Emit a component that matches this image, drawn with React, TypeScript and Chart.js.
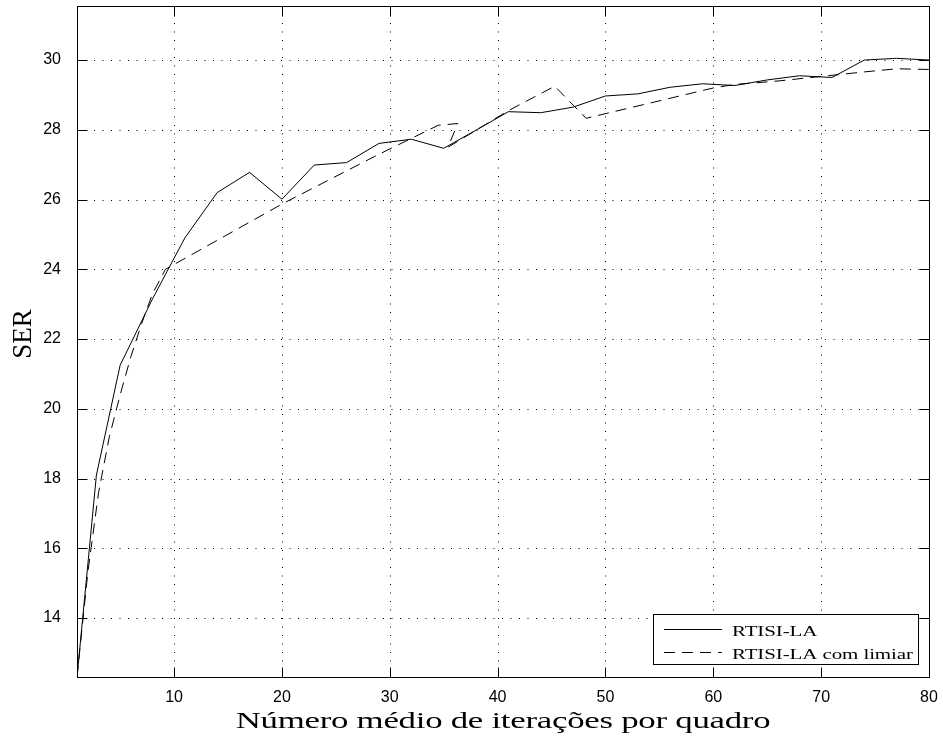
import React, { useEffect, useRef } from 'react';
import { Chart, registerables } from 'chart.js';

Chart.register(...registerables);

// ---- data ----
const rtisiX = [1, 2.8, 5, 8, 11, 14, 17, 20, 23, 26, 29, 32, 35, 38, 41, 44, 47, 50, 53, 56, 59, 62, 65, 68, 71, 74, 77, 80];
const rtisiY = [12.3, 18.1, 21.25, 23.15, 24.9, 26.2, 26.78, 26.01, 26.99, 27.06, 27.61, 27.73, 27.47, 27.99, 28.52, 28.49, 28.65, 28.97, 29.03, 29.22, 29.32, 29.27, 29.43, 29.55, 29.5, 30.0, 30.05, 30.0];

const limiarX = [1, 2, 3, 4, 5, 6, 7, 8, 9.2, 20, 29, 34.5, 36.3, 35.4, 41, 45.3, 48.2, 60, 62, 66, 70, 74, 77, 80];
const limiarY = [12.3, 15.3, 17.6, 19.2, 20.4, 21.5, 22.45, 23.3, 24.0, 25.87, 27.3, 28.13, 28.18, 27.5, 28.55, 29.25, 28.33, 29.2, 29.3, 29.4, 29.53, 29.66, 29.75, 29.73];

const xTicks = [10, 20, 30, 40, 50, 60, 70, 80];
const yTicks = [14, 16, 18, 20, 22, 24, 26, 28, 30];

const seriesNames = ['RTISI-LA', 'RTISI-LA com limiar'];
const xTitle = 'Número médio de iterações por quadro';
const yTitle = 'SER';

const X_MIN = 1;
const X_MAX = 80;
const Y_MIN = 12.31;
const Y_MAX = 31.55;

const DASH = [11, 7];

function drawStretchedText(ctx: any, text: string, x: number, y: number, font: string, target: number, sx: number, align: string) {
  ctx.save();
  ctx.font = font;
  const w = ctx.measureText(text).width;
  const n = Math.max(1, Array.from(text).length - 1);
  let scale = sx;
  if ('letterSpacing' in ctx) {
    const sp = (target / sx - w) / n;
    ctx.letterSpacing = sp.toFixed(2) + 'px';
  } else {
    scale = target / w;
  }
  ctx.translate(x, y);
  ctx.scale(scale, 1);
  ctx.textAlign = align;
  ctx.textBaseline = 'alphabetic';
  ctx.fillStyle = '#000';
  ctx.fillText(text, 0, 0);
  ctx.restore();
}

const framePlugin = {
  id: 'matlabFrame',
  beforeDatasetsDraw(chart: any) {
    const { ctx, chartArea: a, scales } = chart;
    const xs = scales.x;
    const ys = scales.y;
    ctx.save();
    ctx.strokeStyle = '#000';
    ctx.lineWidth = 1;
    ctx.setLineDash([1, 7.5]);
    for (const v of xTicks) {
      if (v >= X_MAX) continue;
      const px = Math.round(xs.getPixelForValue(v)) + 0.5;
      ctx.beginPath();
      ctx.moveTo(px, a.top);
      ctx.lineTo(px, a.bottom);
      ctx.stroke();
    }
    for (const v of yTicks) {
      const py = Math.round(ys.getPixelForValue(v)) + 0.5;
      ctx.beginPath();
      ctx.moveTo(a.left, py);
      ctx.lineTo(a.right, py);
      ctx.stroke();
    }
    ctx.restore();
  },
  afterDatasetsDraw(chart: any) {
    const { ctx, chartArea: a, scales } = chart;
    const xs = scales.x;
    const ys = scales.y;
    const L = Math.round(a.left) + 0.5;
    const R = Math.round(a.right) + 0.5;
    const T = Math.round(a.top) + 0.5;
    const B = Math.round(a.bottom) + 0.5;
    ctx.save();
    ctx.strokeStyle = '#000';
    ctx.lineWidth = 1;
    ctx.setLineDash([]);
    // inward ticks
    const tl = 10;
    ctx.beginPath();
    for (const v of xTicks) {
      const px = Math.round(xs.getPixelForValue(v)) + 0.5;
      ctx.moveTo(px, B); ctx.lineTo(px, B - tl);
      ctx.moveTo(px, T); ctx.lineTo(px, T + tl);
    }
    for (const v of yTicks) {
      const py = Math.round(ys.getPixelForValue(v)) + 0.5;
      ctx.moveTo(L, py); ctx.lineTo(L + tl, py);
      ctx.moveTo(R, py); ctx.lineTo(R - tl, py);
    }
    ctx.stroke();
    // box
    ctx.strokeRect(L, T, R - L, B - T);

    // legend
    const lx = 653.5, ly = 614.5, lw = 265, lh = 50;
    ctx.fillStyle = '#fff';
    ctx.fillRect(lx, ly, lw, lh);
    ctx.strokeRect(lx, ly, lw, lh);
    const rows = [629.5, 652.5];
    const dashes = [[], [11, 7]];
    for (let i = 0; i < 2; i++) {
      ctx.setLineDash(dashes[i]);
      ctx.beginPath();
      ctx.moveTo(664, rows[i]);
      ctx.lineTo(722, rows[i]);
      ctx.stroke();
    }
    ctx.setLineDash([]);
    ctx.restore();

    // legend text (stretched to match the reference)
    const lfont = '15px "Liberation Serif"';
    ctx.save();
    ctx.font = lfont;
    const wLong = ctx.measureText(seriesNames[1]).width;
    const wShort = ctx.measureText(seriesNames[0]).width;
    ctx.restore();
    const sx = 1.4;
    const spacing = (181 / sx - wLong) / (Array.from(seriesNames[1]).length - 1);
    const shortTarget = sx * (wShort + spacing * (Array.from(seriesNames[0]).length - 1));
    drawStretchedText(ctx, seriesNames[0], 732, 636, lfont, shortTarget, sx, 'left');
    drawStretchedText(ctx, seriesNames[1], 732, 659, lfont, 181, sx, 'left');
  },
  afterDraw(chart: any) {
    const { ctx, chartArea: a } = chart;
    // x title
    drawStretchedText(ctx, xTitle, (a.left + a.right) / 2, 728, '24px "Liberation Serif"', 535, 1.45, 'center');
    // y title
    ctx.save();
    ctx.font = '27px "Liberation Serif"';
    ctx.fillStyle = '#000';
    ctx.translate(31, 334);
    ctx.rotate(-Math.PI / 2);
    ctx.textAlign = 'center';
    ctx.textBaseline = 'alphabetic';
    ctx.fillText(yTitle, 0, 0);
    ctx.restore();
  },
};

export default function App() {
  const ref = useRef<HTMLCanvasElement | null>(null);

  useEffect(() => {
    if (!ref.current) return;
    const solid = rtisiX.map((x, i) => ({ x, y: rtisiY[i] }));
    const dashed = limiarX.map((x, i) => ({ x, y: limiarY[i] }));
    const chart = new Chart(ref.current, {
      type: 'line',
      data: {
        datasets: [
          {
            label: seriesNames[0],
            data: solid,
            borderColor: '#000',
            borderWidth: 1,
            pointRadius: 0,
            tension: 0,
            fill: false,
          },
          {
            label: seriesNames[1],
            data: dashed,
            borderColor: '#000',
            borderWidth: 1,
            borderDash: DASH,
            pointRadius: 0,
            tension: 0,
            fill: false,
          },
        ],
      },
      options: {
        animation: false,
        responsive: false,
        devicePixelRatio: 1,
        events: [],
        layout: { padding: { left: 0, right: 14, top: 6, bottom: 0 } },
        plugins: {
          legend: { display: false },
          tooltip: { enabled: false },
          title: { display: false },
        },
        scales: {
          x: {
            type: 'linear',
            min: X_MIN,
            max: X_MAX,
            grid: { display: false, drawTicks: false },
            border: { display: false },
            ticks: {
              color: '#000',
              padding: 11,
              maxRotation: 0,
              font: { family: '"Liberation Sans", Arial, sans-serif', size: 16 },
            },
            afterBuildTicks: (s: any) => {
              s.ticks = xTicks.map((v) => ({ value: v }));
            },
            afterFit: (s: any) => {
              s.height = 65;
              s.paddingLeft = 0;
              s.paddingRight = 0;
            },
          },
          y: {
            type: 'linear',
            min: Y_MIN,
            max: Y_MAX,
            grid: { display: false, drawTicks: false },
            border: { display: false },
            ticks: {
              color: '#000',
              padding: 16,
              font: { family: '"Liberation Sans", Arial, sans-serif', size: 16 },
            },
            afterBuildTicks: (s: any) => {
              s.ticks = yTicks.map((v) => ({ value: v }));
            },
            afterFit: (s: any) => {
              s.width = 77;
              s.paddingTop = 0;
              s.paddingBottom = 0;
            },
          },
        },
      },
      plugins: [framePlugin],
    } as any);
    return () => chart.destroy();
  }, []);

  return (
    <div style={{ position: 'absolute', left: 0, top: 0, width: 943, height: 742, background: '#fff' }}>
      <canvas ref={ref} width={943} height={742} style={{ display: 'block', width: 943, height: 742 }} />
    </div>
  );
}
